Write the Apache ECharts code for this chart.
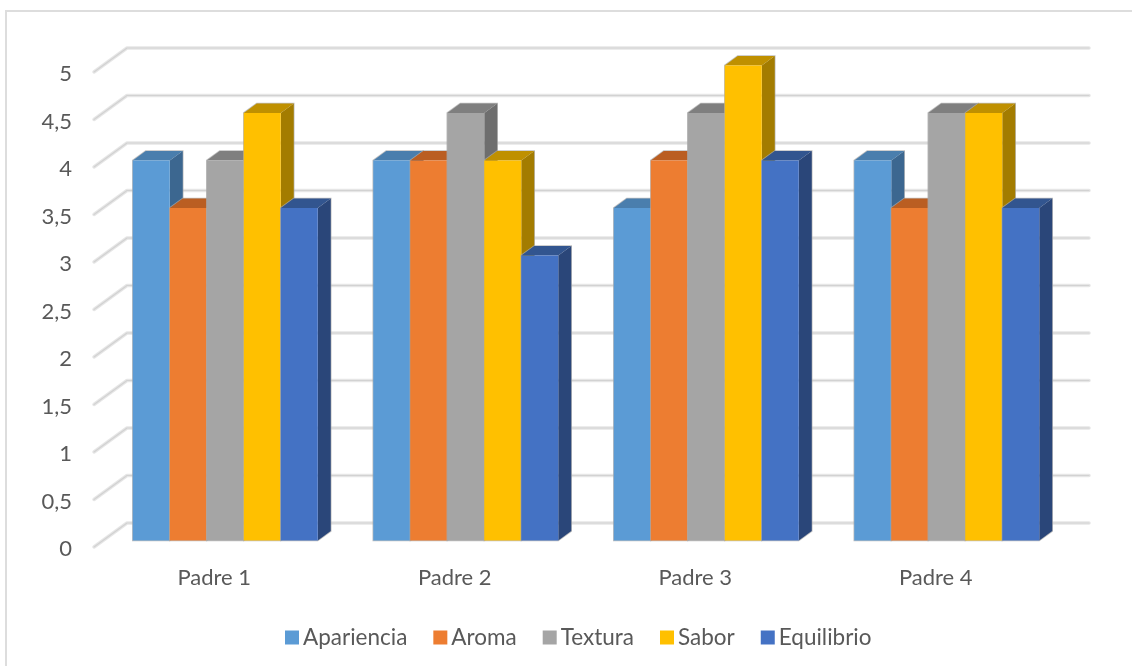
<!DOCTYPE html>
<html>
<head>
<meta charset="utf-8">
<style>
  html, body { margin: 0; padding: 0; background: #fff; }
  #chart { width: 1132px; height: 666px; }
</style>
<script src="https://cdn.jsdelivr.net/npm/echarts@6/dist/echarts.min.js"></script>
</head>
<body>
<div id="chart"></div>
<script>
const categories = ['Padre 1', 'Padre 2', 'Padre 3', 'Padre 4'];
const apariencia = [4, 4, 3.5, 4];
const aroma = [3.5, 4, 4, 3.5];
const textura = [4, 4.5, 4.5, 4.5];
const sabor = [4.5, 4, 5, 4.5];
const equilibrio = [3.5, 3, 4, 3.5];
const yTicks = [0, 0.5, 1, 1.5, 2, 2.5, 3, 3.5, 4, 4.5, 5];

const measures = [
  { name: 'Apariencia', values: apariencia, front: '#5B9BD5', top: '#4A7EAD', side: '#3C6790' },
  { name: 'Aroma', values: aroma, front: '#ED7D31', top: '#BA5E22', side: '#A04E1B' },
  { name: 'Textura', values: textura, front: '#A5A5A5', top: '#7F7F7F', side: '#6E6E6E' },
  { name: 'Sabor', values: sabor, front: '#FFC000', top: '#BF9000', side: '#A37C00' },
  { name: 'Equilibrio', values: equilibrio, front: '#4472C4', top: '#32558F', side: '#2A4679' }
];

// Oblique projection: the axes sit on the front plane of the floor, the bars
// a little way in, and the gridlines on the back wall.
const WALL_DX = 33, WALL_DY = -24;
const BAR_DX = 11, BAR_DY = -6.5;
const DEPTH_DX = 13, DEPTH_DY = -9.5;
const BAR_WIDTH = 37;

function wallLine(params, api) {
  const y = api.coord([0, api.value(0)])[1];
  const cs = params.coordSys;
  const points = [[cs.x, y], [cs.x + WALL_DX, y + WALL_DY], [cs.x + cs.width + WALL_DX, y + WALL_DY]];
  return {
    type: 'group',
    children: [
      { type: 'polyline', shape: { points }, style: { fill: null, stroke: '#E6E6E6', lineWidth: 3.5, lineCap: 'round', lineJoin: 'round' } },
      { type: 'polyline', shape: { points }, style: { fill: null, stroke: '#D2D2D2', lineWidth: 1.2, lineCap: 'round', lineJoin: 'round' } }
    ]
  };
}

function barRenderer(index, m) {
  return function (params, api) {
    const top = api.coord([api.value(0), api.value(1)]);
    const base = api.coord([api.value(0), 0]);
    const x0 = top[0] + BAR_DX + (index - 2.5) * BAR_WIDTH;
    const x1 = x0 + BAR_WIDTH;
    const yt = top[1] + BAR_DY;
    const yb = base[1] + BAR_DY;
    const edge = 'rgba(170,170,170,0.75)';
    return {
      type: 'group',
      children: [
        { type: 'polygon', shape: { points: [[x0, yb], [x0, yt], [x0 + DEPTH_DX, yt + DEPTH_DY], [x1 + DEPTH_DX, yt + DEPTH_DY], [x1 + DEPTH_DX, yb + DEPTH_DY], [x1, yb]] }, style: { fill: 'none', stroke: edge, lineWidth: 1.5 } },
        { type: 'polygon', shape: { points: [[x0, yt], [x0 + DEPTH_DX, yt + DEPTH_DY], [x1 + DEPTH_DX, yt + DEPTH_DY], [x1, yt]] }, style: { fill: m.top } },
        { type: 'polygon', shape: { points: [[x1, yt], [x1 + DEPTH_DX, yt + DEPTH_DY], [x1 + DEPTH_DX, yb + DEPTH_DY], [x1, yb]] }, style: { fill: m.side } },
        { type: 'rect', shape: { x: x0, y: yt, width: BAR_WIDTH, height: yb - yt }, style: { fill: m.front } }
      ]
    };
  };
}

const series = [{
  type: 'custom',
  name: 'wall',
  silent: true,
  clip: false,
  renderItem: wallLine,
  encode: { y: 0 },
  data: yTicks.map(v => [v])
}];

measures.forEach((m, i) => {
  series.push({
    type: 'custom',
    name: m.name,
    clip: false,
    itemStyle: { color: m.front },
    renderItem: barRenderer(i, m),
    encode: { x: 0, y: 1 },
    data: categories.map((c, j) => [j, m.values[j]])
  });
});

const textFont = 'Lato, "Open Sans", sans-serif';

const chart = echarts.init(document.getElementById('chart'), null, { renderer: 'canvas' });
chart.setOption({
  animation: false,
  backgroundColor: '#fff',
  grid: { left: 94, top: 72, width: 962, height: 475 },
  xAxis: {
    type: 'category',
    data: categories,
    axisLine: { show: false },
    axisTick: { show: false },
    axisLabel: { color: '#595959', fontFamily: textFont, fontSize: 22, margin: 20 }
  },
  yAxis: {
    type: 'value',
    min: 0,
    max: 5,
    interval: 0.5,
    axisLine: { show: false },
    axisTick: { show: false },
    splitLine: { show: false },
    axisLabel: {
      color: '#595959',
      fontFamily: textFont,
      fontSize: 22,
      margin: 22,
      verticalAlign: 'top',
      lineHeight: 4,
      formatter: v => String(v).replace('.', ',')
    }
  },
  legend: {
    data: measures.map(m => ({ name: m.name, icon: 'rect' })),
    left: 280,
    top: 621,
    itemWidth: 14,
    itemHeight: 14,
    itemGap: 26,
    textStyle: { color: '#595959', fontFamily: textFont, fontSize: 22.5, padding: [0, 0, 0, -1] }
  },
  graphic: [
    { type: 'polyline', silent: true, shape: { points: [[6, 666], [6, 11], [1132, 11]] }, style: { fill: null, stroke: '#DDDDDD', lineWidth: 2 } }
  ],
  series
});
</script>
</body>
</html>
